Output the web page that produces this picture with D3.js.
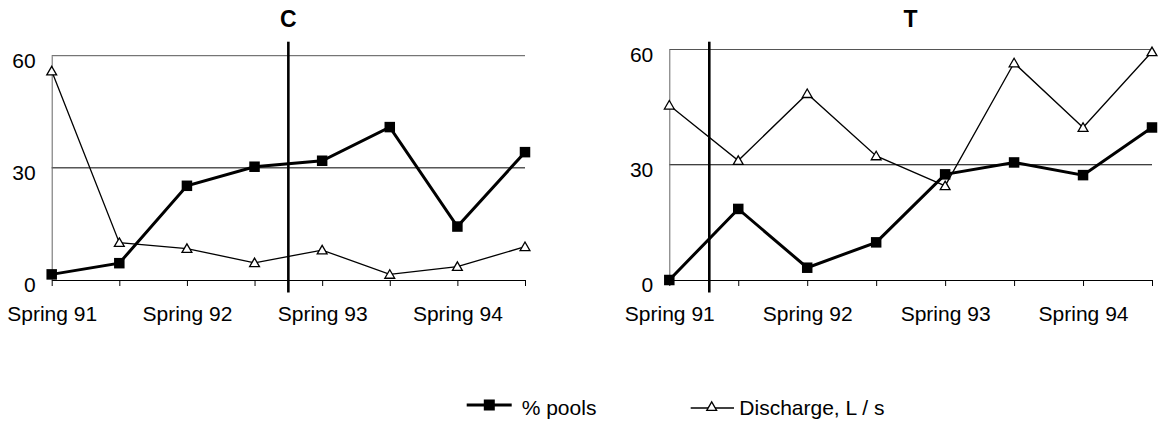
<!DOCTYPE html>
<html>
<head>
<meta charset="utf-8">
<script src="https://cdn.jsdelivr.net/npm/d3@7"></script>
<style>
  html, body { margin: 0; padding: 0; background: #fff; }
  svg { display: block; font-family: "Liberation Sans", Arial, sans-serif; }
</style>
</head>
<body>
<svg id="chart" width="1159" height="421"></svg>
<script>
// ---- data ----
const periods = [0, 1, 2, 3, 4, 5, 6, 7];
const tickLabels = ["Spring 91", "", "Spring 92", "", "Spring 93", "", "Spring 94", ""];
const yTicks = [0, 30, 60];

const poolsC = [1.5, 4.5, 25.2, 30.3, 31.9, 40.9, 14.3, 34.2];
const dischargeC = [55.9, 10.0, 8.4, 4.6, 8.0, 1.5, 3.6, 8.9];
const poolsT = [0, 18.5, 3.2, 9.8, 27.5, 30.6, 27.3, 39.7];
const dischargeT = [45.5, 31.1, 48.5, 32.3, 24.5, 56.5, 39.7, 59.4];

const panelTitles = ["C", "T"];
const markerPos = [3.5, 0.58];   // position of vertical reference line (in period units)
const legendLabels = ["% pools", "Discharge, L / s"];

// ---- layout ----
const panels = [
  { title: panelTitles[0], pools: poolsC, discharge: dischargeC, marker: markerPos[0],
    x0: 51.7, x1: 525, y0: 280, y60: 55.7 },
  { title: panelTitles[1], pools: poolsT, discharge: dischargeT, marker: markerPos[1],
    x0: 669.3, x1: 1152, y0: 280, y60: 49.5 }
];

const svg = d3.select("#chart");
const FONT = 21;

const tri = d3.symbol().type(d3.symbolTriangle).size(42);

panels.forEach(p => {
  const g = svg.append("g");
  const x = d3.scaleLinear().domain([0, 7]).range([p.x0, p.x1]);
  const y = d3.scaleLinear().domain([0, 60]).range([p.y0, p.y60]);

  // gridlines at 30 and 60
  g.selectAll("line.grid").data(yTicks.filter(v => v > 0)).join("line")
    .attr("class", "grid")
    .attr("x1", x(0)).attr("x2", x(7))
    .attr("y1", d => y(d)).attr("y2", d => y(d))
    .attr("stroke", d => d === 60 ? "#555" : "#000")
    .attr("stroke-width", 1);

  // y axis
  const yAx = g.append("g").attr("transform", `translate(${x(0)},0)`)
    .call(d3.axisLeft(y).tickValues(yTicks).tickSize(0).tickPadding(16).tickFormat(d3.format("d")));
  yAx.select(".domain").attr("stroke", "#666").attr("stroke-width", 1);
  yAx.selectAll("text").attr("font-size", FONT).attr("fill", "#000")
    .attr("font-family", "Liberation Sans, Arial, sans-serif")
    .attr("dy", "0.55em");

  // x axis
  const xAx = g.append("g").attr("transform", `translate(0,${y(0)})`)
    .call(d3.axisBottom(x).tickValues(periods).tickSize(6).tickSizeOuter(0)
      .tickFormat(i => tickLabels[i]));
  xAx.select(".domain").attr("stroke", "#000").attr("stroke-width", 1);
  xAx.selectAll(".tick line").attr("stroke", "#000").attr("stroke-width", 1);
  xAx.selectAll("text").attr("font-size", FONT).attr("fill", "#000")
    .attr("font-family", "Liberation Sans, Arial, sans-serif")
    .attr("y", 41).attr("dy", 0);

  // vertical reference line
  g.append("line")
    .attr("x1", x(p.marker)).attr("x2", x(p.marker))
    .attr("y1", 41.7).attr("y2", 292.5)
    .attr("stroke", "#000").attr("stroke-width", 2.6);

  // discharge line (thin, triangles)
  const line = d3.line().x((d, i) => x(periods[i])).y(d => y(d));
  g.append("path").datum(p.discharge)
    .attr("d", line).attr("fill", "none")
    .attr("stroke", "#000").attr("stroke-width", 1.3);

  // pools line (thick, squares)
  g.append("path").datum(p.pools)
    .attr("d", line).attr("fill", "none")
    .attr("stroke", "#000").attr("stroke-width", 3);

  g.selectAll("path.tri").data(p.discharge).join("path")
    .attr("class", "tri")
    .attr("d", tri)
    .attr("transform", (d, i) => `translate(${x(periods[i])},${y(d) + 1})`)
    .attr("fill", "#fff").attr("stroke", "#000").attr("stroke-width", 1.3);

  const S = 10.5;
  g.selectAll("rect.sq").data(p.pools).join("rect")
    .attr("class", "sq")
    .attr("x", (d, i) => x(periods[i]) - S / 2)
    .attr("y", d => y(d) - S / 2)
    .attr("width", S).attr("height", S)
    .attr("fill", "#000");

  // title
  g.append("text")
    .attr("x", (p.x0 + p.x1) / 2).attr("y", 27)
    .attr("text-anchor", "middle")
    .attr("font-size", 23).attr("font-weight", "bold")
    .text(p.title);
});

// ---- legend ----
const lg = svg.append("g");
lg.append("line").attr("x1", 466.7).attr("x2", 511.7).attr("y1", 405).attr("y2", 405)
  .attr("stroke", "#000").attr("stroke-width", 3);
lg.append("rect").attr("x", 489.3 - 5.5).attr("y", 405 - 5.5).attr("width", 11).attr("height", 11)
  .attr("fill", "#000");
lg.append("text").attr("x", 521.7).attr("y", 415).attr("font-size", FONT).text(legendLabels[0]);

lg.append("line").attr("x1", 690.7).attr("x2", 734).attr("y1", 408).attr("y2", 408)
  .attr("stroke", "#000").attr("stroke-width", 1.3);
lg.append("path").attr("d", tri).attr("transform", "translate(711.7,407.5)")
  .attr("fill", "#fff").attr("stroke", "#000").attr("stroke-width", 1.3);
lg.append("text").attr("x", 739.3).attr("y", 415).attr("font-size", FONT).text(legendLabels[1]);
</script>
</body>
</html>
